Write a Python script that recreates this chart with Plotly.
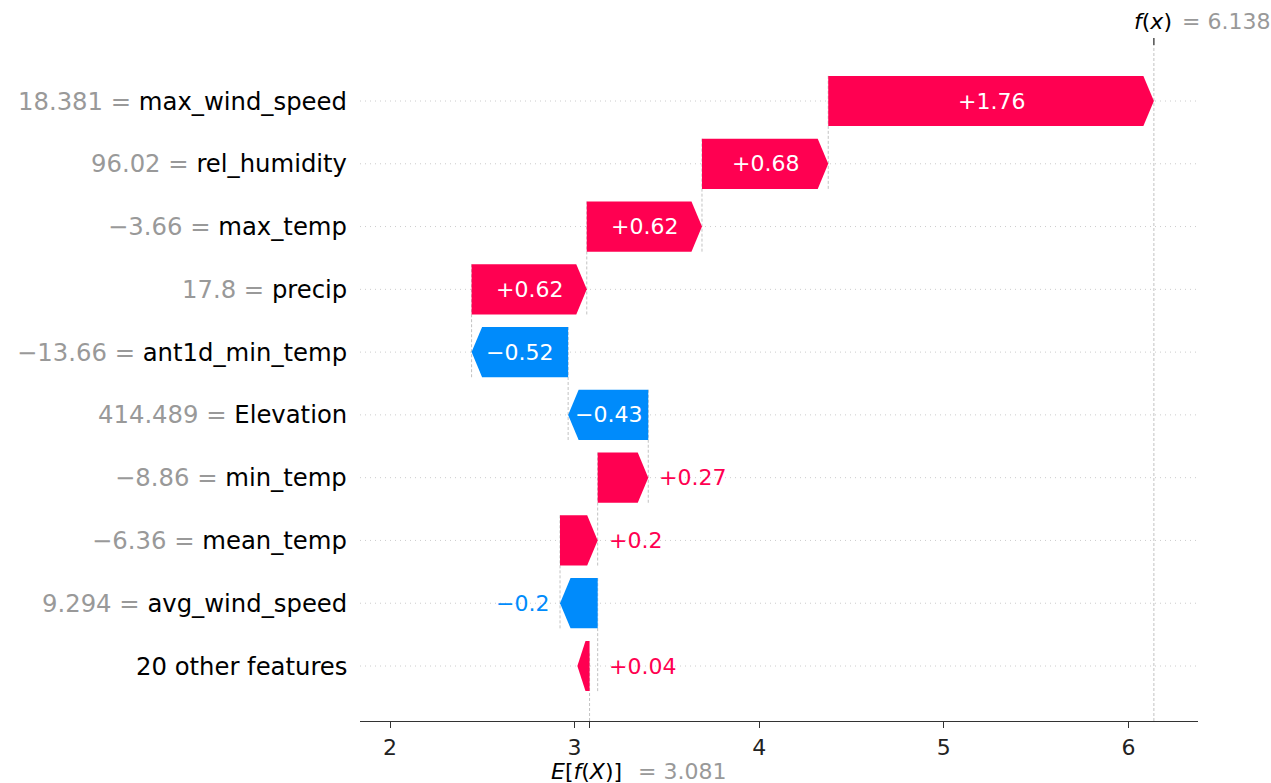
import re
import plotly.graph_objects as go

# ---------------- data ----------------
features = ["max_wind_speed", "rel_humidity", "max_temp", "precip", "ant1d_min_temp",
            "Elevation", "min_temp", "mean_temp", "avg_wind_speed", "20 other features"]
feature_values = ["18.381", "96.02", "\u22123.66", "17.8", "\u221213.66",
                  "414.489", "\u22128.86", "\u22126.36", "9.294", ""]
shap_values = [1.764, 0.684, 0.624, 0.624, -0.523, -0.434, 0.274, 0.204, -0.204, 0.044]
base_value = 3.081
x_ticks = [2, 3, 4, 5, 6]
x_range = [1.8375, 6.377]
y_range = [-0.876, 9.892]

# ---------------- style ----------------
W, H = 1271, 783
ML, MR, MT, MB = 360, 73, 45, 62
RED = "#ff0051"
BLUE = "#008bfb"
GRAY = "#999999"
FONT = "DejaVu Sans"
BAR_FS = 22
YLAB_FS = 24.3
TICK_FS = 22
EF_FS = 22

ppu = (W - ML - MR) / (x_range[1] - x_range[0])
hl = 10.5 / ppu          # arrow head length in data units
half = 0.4               # half bar height
offset_px = 9.2


def fmt(v, f):
    s = f % v
    s = re.sub(r'\.?0+$', '', s)
    if s[0] == '-':
        s = '\u2212' + s[1:]
    return s


fx = base_value + sum(shap_values)
n = len(features)

fig = go.Figure()
shapes = []
annotations = []

# row grid lines
for r in range(n):
    shapes.append(dict(type="line", xref="paper", x0=0, x1=1, yref="y", y0=r, y1=r,
                       line=dict(color="#cccccc", width=1, dash="1px,4px"), layer="below"))

cum = base_value
for k in range(n - 1, -1, -1):
    v = shap_values[k]
    row = n - 1 - k
    start = cum
    end = cum + v
    y = row
    if v >= 0:
        if v > hl:
            xs = [start, end - hl, end, end - hl, start, start]
        else:
            tip = start - 1.5 * v
            corner = start - 0.5 * v
            xs = [start, corner, tip, corner, start, start]
        color = RED
    else:
        if -v > hl:
            xs = [start, end + hl, end, end + hl, start, start]
        else:
            tip = start - 1.5 * v
            corner = start - 0.5 * v
            xs = [start, corner, tip, corner, start, start]
        color = BLUE
    ys = [y - half, y - half, y, y + half, y + half, y - half]
    fig.add_trace(go.Scatter(x=xs, y=ys, mode="lines", fill="toself", fillcolor=color,
                             line=dict(width=0, color=color), hoverinfo="skip",
                             showlegend=False))

    # label
    lab = fmt(v, "%+0.02f")
    est_w = len(lab) * 0.61 * BAR_FS
    if est_w < abs(v) * ppu:
        annotations.append(dict(x=start + v / 2, y=y, xref="x", yref="y", text=lab,
                                showarrow=False, xanchor="center", yanchor="middle",
                                font=dict(family=FONT, size=BAR_FS, color="white")))
    else:
        if v >= 0:
            annotations.append(dict(x=end, y=y, xref="x", yref="y", text=lab,
                                    showarrow=False, xanchor="left", yanchor="middle",
                                    xshift=offset_px,
                                    font=dict(family=FONT, size=BAR_FS, color=RED)))
        else:
            annotations.append(dict(x=end, y=y, xref="x", yref="y", text=lab,
                                    showarrow=False, xanchor="right", yanchor="middle",
                                    xshift=-offset_px,
                                    font=dict(family=FONT, size=BAR_FS, color=BLUE)))

    # connecting dashed line
    if row > 0:
        shapes.append(dict(type="line", xref="x", yref="y", x0=start, x1=start,
                           y0=row - 1 - 0.4, y1=row + 0.4,
                           line=dict(color="#bbbbbb", width=0.9, dash="3px,2px"),
                           layer="below"))

    # y label
    if feature_values[k]:
        txt = "<span style='color:%s'>%s = </span>%s" % (GRAY, feature_values[k], features[k])
    else:
        txt = features[k]
    annotations.append(dict(x=0, y=y, xref="paper", yref="y", text=txt, showarrow=False,
                            xanchor="right", yanchor="middle", xshift=-11,
                            font=dict(family=FONT, size=YLAB_FS, color="#000000")))
    cum = end

# f(x) and E[f(X)] lines
shapes.append(dict(type="line", xref="x", yref="paper", x0=fx, x1=fx, y0=0, y1=1,
                   line=dict(color="#bbbbbb", width=0.9, dash="3px,2px"), layer="below"))
shapes.append(dict(type="line", xref="x", yref="paper", x0=base_value, x1=base_value,
                   y0=0, y1=1.0 / n,
                   line=dict(color="#bbbbbb", width=0.9, dash="3px,2px"), layer="below"))
# top tick for f(x)
shapes.append(dict(type="line", xref="x", yref="paper", x0=fx, x1=fx, y0=1,
                   y1=1 + 7.0 / (H - MT - MB), line=dict(color="#333333", width=1.3)))

annotations.append(dict(x=fx, y=1, xref="x", yref="paper", text="<i>f</i>(<i>x</i>)",
                        showarrow=False, xanchor="right", yanchor="middle", xshift=20,
                        yshift=24, font=dict(family=FONT, size=EF_FS, color="#000000")))
annotations.append(dict(x=fx, y=1, xref="x", yref="paper", text="= " + fmt(fx, "%0.03f"),
                        showarrow=False, xanchor="left", yanchor="middle", xshift=26,
                        yshift=24, font=dict(family=FONT, size=EF_FS, color=GRAY)))
annotations.append(dict(x=base_value, y=0, xref="x", yref="paper",
                        text="<i>E</i>[<i>f</i>(<i>X</i>)]",
                        showarrow=False, xanchor="right", yanchor="middle", xshift=34,
                        yshift=-50, font=dict(family=FONT, size=EF_FS, color="#000000")))
annotations.append(dict(x=base_value, y=0, xref="x", yref="paper",
                        text="= " + fmt(base_value, "%0.03f"),
                        showarrow=False, xanchor="left", yanchor="middle", xshift=46,
                        yshift=-50, font=dict(family=FONT, size=EF_FS, color=GRAY)))

tickvals = x_ticks + [base_value]
ticktext = [str(t) for t in x_ticks] + [""]

fig.update_layout(
    width=W, height=H,
    margin=dict(l=ML, r=MR, t=MT, b=MB),
    plot_bgcolor="white", paper_bgcolor="white",
    shapes=shapes, annotations=annotations,
    showlegend=False,
    xaxis=dict(range=x_range, tickvals=tickvals, ticktext=ticktext, ticks="outside",
               ticklen=6, tickwidth=1.3, tickcolor="#333333", showline=True,
               linecolor="#333333", linewidth=1.3, showgrid=False, zeroline=False,
               tickfont=dict(family=FONT, size=TICK_FS, color="#222222"), fixedrange=True),
    yaxis=dict(range=y_range, showticklabels=False, showgrid=False, zeroline=False,
               showline=False, ticks="", fixedrange=True),
)

fig.write_html("out.html")
